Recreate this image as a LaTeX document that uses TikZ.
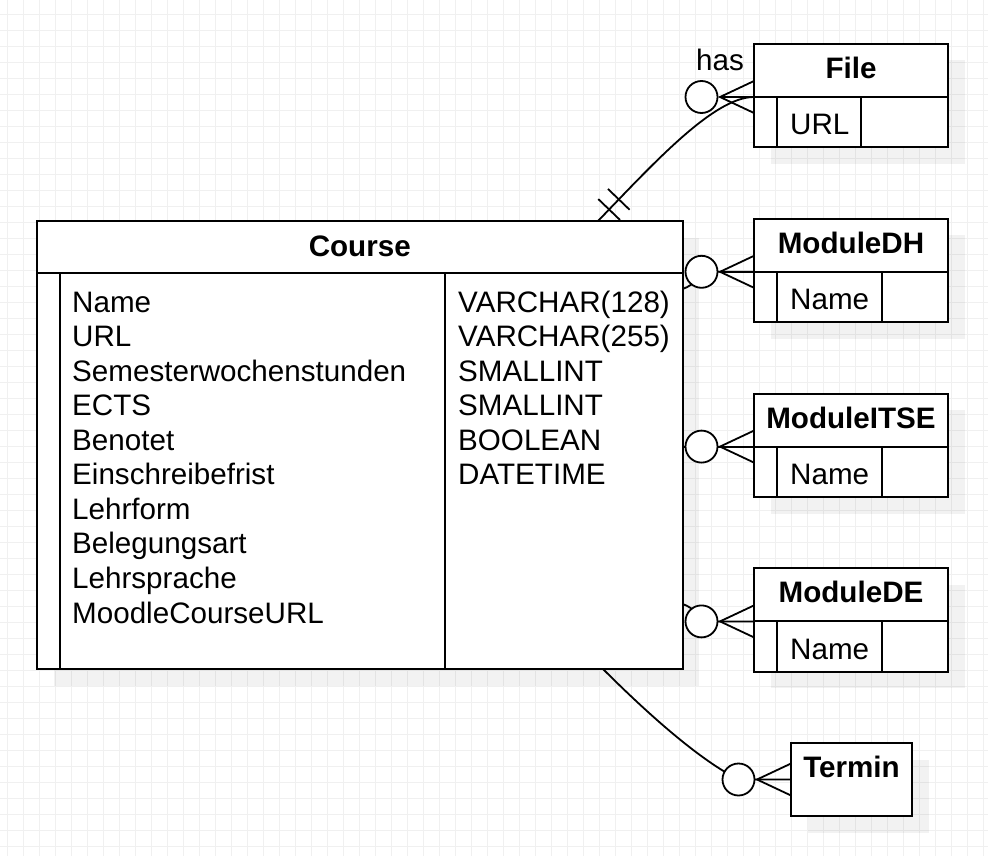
\documentclass[tikz,border=0pt]{standalone}
\usepackage{fontspec}
\setmainfont{Liberation Sans}
\usetikzlibrary{arrows.meta,positioning,calc,shadows,decorations.markings}

\tikzset{
  gridline/.style={draw=black!6, line width=1pt},
  entity/.style={draw, line width=2pt, fill=white, anchor=north west, inner sep=0pt, outer sep=0pt,
    general shadow={fill=black, opacity=0.05, shadow xshift=16.5pt, shadow yshift=-16.5pt}},
  rule/.style={line width=2pt},
  link/.style={line width=1.8pt},
  title/.style={font=\fontsize{29.6}{34.56}\selectfont\bfseries, anchor=base, inner sep=0pt},
  field/.style={font=\fontsize{29.6}{34.56}\selectfont, anchor=base west, inner sep=0pt},
  zerocirc/.style={draw, line width=1.8pt, fill=white, circle, minimum size=32pt, inner sep=0pt},
  onebar/.style={postaction={decorate, decoration={markings,
    mark=at position 16pt with {\draw[link] (0pt,-15pt) -- (0pt,15pt);},
    mark=at position 30pt with {\draw[link] (0pt,-15pt) -- (0pt,15pt);}}}}
}

% zero-or-many end: #1 point on the entity, #2 name of the circle
\newcommand{\zeromany}[2]{%
  \draw[link] ($(#1)+(0,-16)$) -- ($(#1)+(-34,0)$) -- ($(#1)+(0,16)$);
  \draw[link] (#1) -- ++(-34,0);
  \node[zerocirc] (#2) at ($(#1)+(-52.5,0)$) {};
}

\begin{document}
\begin{tikzpicture}[x=1pt,y=-1pt]

  \useasboundingbox (0,0) rectangle (988,856);
  \fill[white] (0,0) rectangle (988,856);

  % background grid
  \foreach \gx in {7.3,23.3,...,988}
    \draw[gridline] (\gx,0) -- (\gx,856);
  \foreach \gy in {14.7,30.7,...,856}
    \draw[gridline] (0,\gy) -- (988,\gy);

  % course table
  \node[entity, minimum width=645.5pt, minimum height=448pt] (course) at (37,221) {};
  \node[title] (course-t) at ($(course.north)+(0,35)$) {Course};
  \draw[rule] (course.north west) ++(0,51.5) coordinate (course-h) -- ++(645.5,0);
  \draw[rule] (course-h) ++(23,0) -- ++(0,396.5);
  \draw[rule] (course-h) ++(408,0) -- ++(0,396.5);

  \foreach \fname [count=\i from 0] in {Name, URL, Semesterwochenstunden, ECTS, Benotet,
      Einschreibefrist, Lehrform, Belegungsart, Lehrsprache, MoodleCourseURL}
    \node[field] (course-f\i) at ($(course-h)+(35,{39.5+34.56*\i})$) {\fname};
  \foreach \ftype [count=\i from 0] in {VARCHAR(128), VARCHAR(255), SMALLINT, SMALLINT,
      BOOLEAN, DATETIME}
    \node[field] (course-ty\i) at ($(course-h)+(421,{39.5+34.56*\i})$) {\ftype};

  % small tables on the right
  \foreach \ename/\etitle/\ey/\efield/\ecol in {file/File/44/URL/107,
      moddh/ModuleDH/218.8/Name/128, moditse/ModuleITSE/393.6/Name/128,
      modde/ModuleDE/568.4/Name/128} {
    \node[entity, minimum width=194pt, minimum height=103.4pt] (\ename) at (754,\ey) {};
    \node[title] (\ename-t) at ($(\ename.north)+(0,34.5)$) {\etitle};
    \draw[rule] (\ename.north west) ++(0,53) coordinate (\ename-h) -- ++(194,0);
    \draw[rule] (\ename-h) ++(23,0) -- ++(0,50.4);
    \draw[rule] (\ename-h) ++(\ecol,0) -- ++(0,50.4);
    \node[field] (\ename-f) at ($(\ename-h)+(36,38)$) {\efield};
  }

  \node[entity, minimum width=121pt, minimum height=73pt] (termin) at (791,743) {};
  \node[title] (termin-t) at ($(termin.north)+(0,34.3)$) {Termin};

  % connectors
  \coordinate (c-file) at ($(course.north west)+(561,0)$);
  \coordinate (c-dh) at ($(course.north east)+(0,68)$);
  \coordinate (c-de) at ($(course.north east)+(0,383)$);
  \coordinate (c-termin) at ($(course.south west)+(566,0)$);

  \draw[link, onebar] (c-file) .. controls (654,163) and (714,97) .. (file-h);
  \node[field, anchor=base] (has) at (720,71) {has};

  \draw[link] (c-dh) .. controls (695,285) and (698,276) .. ($(moddh-h)+(-52.5,0)$) -- (moddh-h);
  \draw[link] (course.east |- moditse-h) -- (moditse-h);
  \draw[link] (c-de) .. controls (695,608) and (698,617) .. ($(modde-h)+(-52.5,0)$) -- (modde-h);
  \draw[link] (c-termin) .. controls (650,716) and (700,760) .. ($(termin.west)+(-52.5,0)$) -- (termin.west);

  % zero or many ends
  \zeromany{file-h}{o-file}
  \zeromany{moddh-h}{o-dh}
  \zeromany{moditse-h}{o-itse}
  \zeromany{modde-h}{o-de}
  \zeromany{termin.west}{o-termin}

\end{tikzpicture}
\end{document}
